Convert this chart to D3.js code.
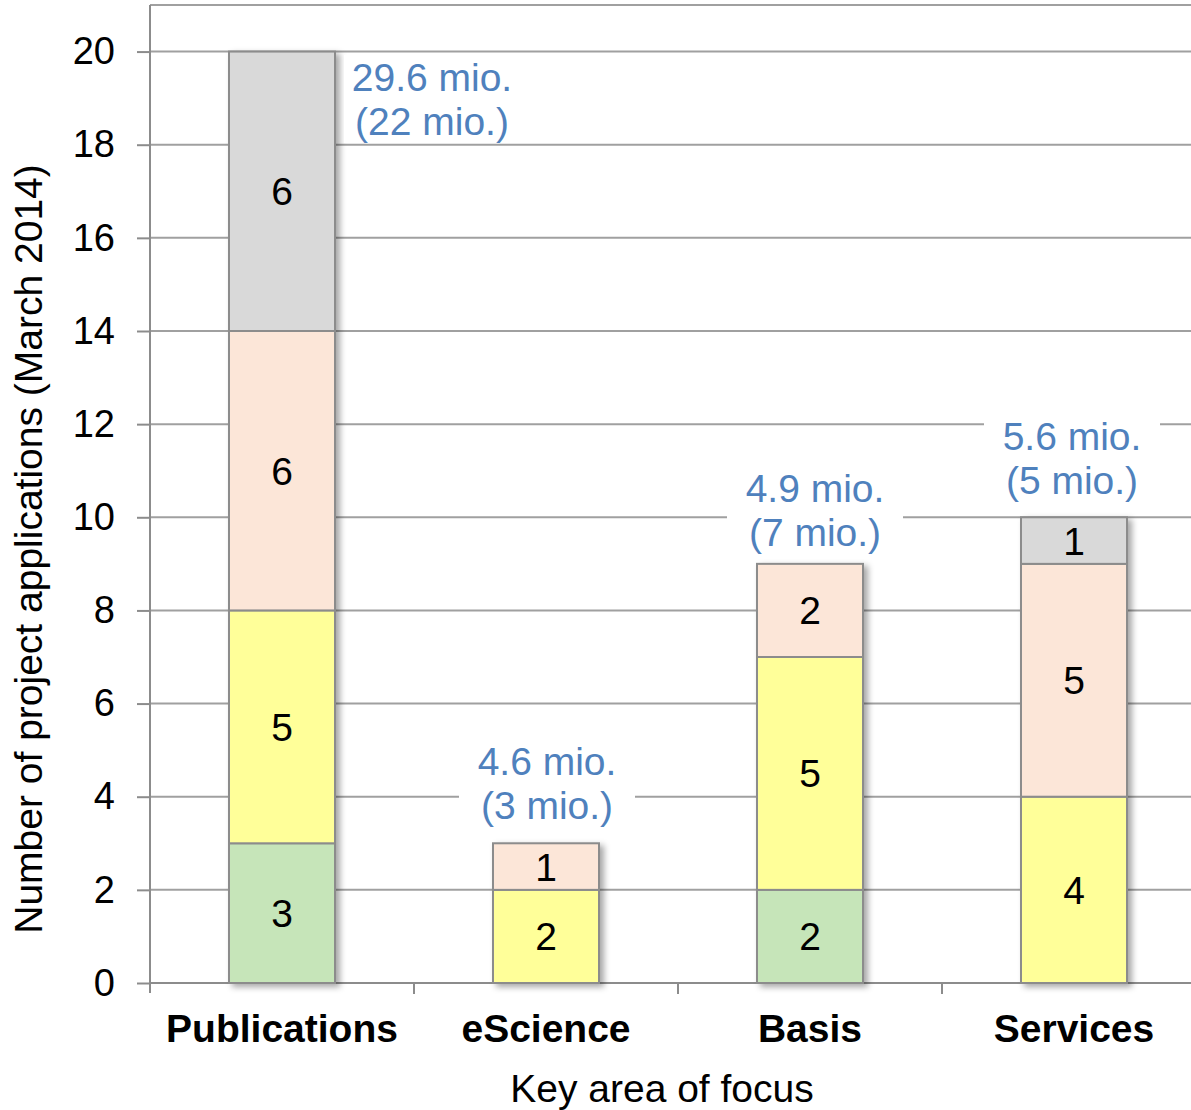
<!DOCTYPE html>
<html><head><meta charset="utf-8">
<script src="https://cdn.jsdelivr.net/npm/d3@7"></script>
<style>
html,body{margin:0;padding:0;background:#fff;}
text{font-family:"Liberation Sans",Arial,sans-serif;}
</style></head>
<body>
<svg id="chart" width="1191" height="1110"></svg>
<script>
const categories = ["Publications","eScience","Basis","Services"];
const seriesNames = ["s1","s2","s3","s4"];
const seriesColors = ["#c6e5b9","#ffff99","#fce6d8","#d9d9d9"];
const s1 = [3,0,2,0];
const s2 = [5,2,5,4];
const s3 = [6,1,2,5];
const s4 = [6,0,0,1];
const annotLine1 = ["29.6 mio.","4.6 mio.","4.9 mio.","5.6 mio."];
const annotLine2 = ["(22 mio.)","(3 mio.)","(7 mio.)","(5 mio.)"];
const yTicks = [0,2,4,6,8,10,12,14,16,18,20];

const svg = d3.select("#chart");
const x = d3.scaleBand().domain(categories).range([150,1206]).paddingInner(0).paddingOuter(0);
const y = d3.scaleLinear().domain([0,21]).range([983,5]);
const barW = 106;

const defs = svg.append("defs");
const f = defs.append("filter").attr("id","sh").attr("x","-20%").attr("y","-20%").attr("width","150%").attr("height","150%");
f.append("feDropShadow").attr("dx",4).attr("dy",3).attr("stdDeviation",3).attr("flood-color","#000").attr("flood-opacity",0.35);

// gridlines
svg.append("g").selectAll("line").data(yTicks.filter(d=>d>0)).join("line")
  .attr("x1",150).attr("x2",1206).attr("y1",d=>y(d)).attr("y2",d=>y(d))
  .attr("stroke","#a0a0a0").attr("stroke-width",2);
// top border
svg.append("line").attr("x1",150).attr("x2",1206).attr("y1",y(21)).attr("y2",y(21)).attr("stroke","#a0a0a0").attr("stroke-width",2);

// y axis
const yAxis = d3.axisLeft(y).tickValues(yTicks).tickSize(13).tickPadding(22);
const gy = svg.append("g").attr("transform","translate(150,0)").call(yAxis);
gy.select(".domain").remove();
gy.selectAll(".tick line").attr("stroke","#8c8c8c").attr("stroke-width",2);
gy.selectAll(".tick text").attr("font-size",38).attr("fill","#000").attr("font-family","Liberation Sans, Arial, sans-serif");
svg.append("line").attr("x1",150).attr("x2",150).attr("y1",y(21)).attr("y2",993).attr("stroke","#8c8c8c").attr("stroke-width",2);

// x axis
svg.append("line").attr("x1",150).attr("x2",1206).attr("y1",983).attr("y2",983).attr("stroke","#8c8c8c").attr("stroke-width",2);
const boundaries = categories.slice(1).map(c=>x(c));
svg.append("g").selectAll("line").data(boundaries).join("line")
  .attr("x1",d=>d).attr("x2",d=>d).attr("y1",983).attr("y2",994).attr("stroke","#8c8c8c").attr("stroke-width",2);
svg.append("g").selectAll("text").data(categories).join("text")
  .attr("x",d=>x(d)+x.bandwidth()/2).attr("y",1042).attr("text-anchor","middle")
  .attr("font-size",39).attr("font-weight","bold").text(d=>d);

// stacked data
const table = categories.map((c,i)=>({cat:c,s1:s1[i],s2:s2[i],s3:s3[i],s4:s4[i]}));
const stack = d3.stack().keys(seriesNames)(table);

const groups = svg.append("g").selectAll("g").data(categories).join("g").attr("filter","url(#sh)");
groups.each(function(c,ci){
  const g = d3.select(this);
  stack.forEach((layer,li)=>{
    const d = layer[ci];
    if (d[1]-d[0] <= 0) return;
    g.append("rect").attr("x",x(c)+x.bandwidth()/2-barW/2).attr("width",barW)
      .attr("y",y(d[1])).attr("height",y(d[0])-y(d[1]))
      .attr("fill",seriesColors[li]).attr("stroke","#8c8c8c").attr("stroke-width",2);
  });
});
// segment labels
stack.forEach((layer,li)=>{
  layer.forEach((d,ci)=>{
    const v = d[1]-d[0];
    if (v<=0) return;
    svg.append("text").attr("x",x(categories[ci])+x.bandwidth()/2).attr("y",(y(d[0])+y(d[1]))/2+14)
      .attr("text-anchor","middle").attr("font-size",39).attr("fill","#000").text(v);
  });
});

// annotations
const annotX = [432,547,815,1072];
const annotY1 = [77,761,488,436];
annotY1.forEach((ay,i)=>{
  svg.append("rect").attr("x",annotX[i]-88).attr("y",ay-22).attr("width",176).attr("height",88).attr("fill","#fff");
});
annotY1.forEach((ay,i)=>{
  svg.append("text").attr("x",annotX[i]).attr("y",ay+14).attr("text-anchor","middle").attr("font-size",39).attr("fill","#4f81bd").text(annotLine1[i]);
  svg.append("text").attr("x",annotX[i]).attr("y",ay+44+14).attr("text-anchor","middle").attr("font-size",39).attr("fill","#4f81bd").text(annotLine2[i]);
});

// axis titles
svg.append("text").attr("x",662).attr("y",1102).attr("text-anchor","middle").attr("font-size",39).text("Key area of focus");
svg.append("text").attr("transform","translate(42,549) rotate(-90)").attr("text-anchor","middle").attr("font-size",39).text("Number of project applications (March 2014)");
</script>
</body></html>
